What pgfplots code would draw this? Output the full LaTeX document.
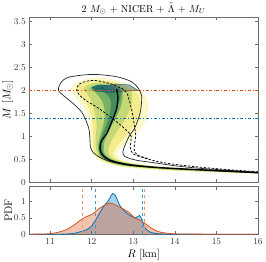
\documentclass[border=0pt]{standalone}
\usepackage{pgfplots}
\pgfplotsset{compat=1.18}
\definecolor{mblue}{RGB}{0,114,189}
\definecolor{morange}{RGB}{217,83,25}
\definecolor{axgray}{RGB}{110,110,110}
\definecolor{yA}{RGB}{252,248,200}
\definecolor{yB}{RGB}{244,236,140}
\definecolor{gC}{RGB}{196,216,118}
\definecolor{gD}{RGB}{120,178,98}
\definecolor{gF}{RGB}{70,140,90}
\definecolor{gE}{RGB}{30,108,114}
\definecolor{thick}{RGB}{22,58,44}
\begin{document}
\begin{tikzpicture}[x=1pt,y=1pt]
\path[use as bounding box] (0,0) rectangle (266,262);
\pgfplotsset{
  myax/.style={
    scale only axis, width=228.7pt, anchor=south west,
    xmin=10.5, xmax=16,
    xtick={11,12,13,14,15,16},
    tick align=inside, major tick length=3pt,
    axis line style={axgray, line width=0.5pt},
    tick style={axgray, line width=0.5pt},
    ticklabel style={font=\small, text=black!80},
    label style={font=\fontsize{11}{13}\selectfont},
  }
}
% ---------------- top axis ----------------
\begin{axis}[myax, at={(29.3pt,79.7pt)}, height=165.3pt,
  ymin=0, ymax=3.6,
  ytick={0,0.5,1,1.5,2,2.5,3,3.5},
  yticklabels={0,0.5,1,1.5,2,2.5,3,3.5},
  xticklabels={},
  ylabel={$M$ [$M_\odot$]},
  ylabel style={yshift=-6pt},
  title={$2\ M_\odot$ + NICER + $\tilde{\Lambda}$ + $M_U$},
  title style={font=\fontsize{10}{12}\selectfont, yshift=-7pt},
]
% density layers
\addplot[draw=none, fill=yA, smooth] coordinates {
(11.5,2.03)(11.6,2.15)(11.85,2.25)(12.2,2.28)(12.6,2.22)(12.95,2.1)(13.25,1.95)(13.37,1.7)(13.32,1.4)(13.17,1.15)(12.97,0.95)(12.78,0.8)(12.62,0.65)(12.67,0.52)(12.9,0.45)(13.4,0.37)(14,0.32)(15,0.262)(16,0.225)
(16,0.19)(15,0.215)(14,0.25)(13.3,0.285)(12.7,0.34)(12.3,0.43)(12.08,0.55)(11.98,0.7)(11.97,0.9)(11.96,1.1)(11.93,1.35)(11.85,1.55)(11.7,1.75)(11.55,1.92)} -- cycle;
\addplot[draw=none, fill=yB, smooth] coordinates {
(11.65,2.05)(11.8,2.17)(12.2,2.22)(12.6,2.16)(12.95,2.04)(13.15,1.85)(13.17,1.55)(13.02,1.25)(12.82,1.0)(12.62,0.8)(12.52,0.62)(12.62,0.5)(12.9,0.425)(13.4,0.36)(14,0.315)(15,0.257)(16,0.222)
(16,0.195)(15,0.222)(14,0.258)(13.3,0.3)(12.7,0.352)(12.35,0.435)(12.13,0.555)(12.04,0.72)(12.03,0.95)(12.02,1.2)(11.99,1.45)(11.89,1.7)(11.73,1.92)} -- cycle;
\addplot[draw=none, fill=gC, smooth] coordinates {
(11.8,2.05)(12.0,2.15)(12.35,2.17)(12.7,2.1)(12.95,1.97)(12.96,1.7)(12.82,1.4)(12.64,1.15)(12.47,0.9)(12.4,0.7)(12.47,0.54)(12.8,0.43)(13.4,0.352)(14,0.308)(15,0.252)(16,0.218)
(16,0.2)(15,0.228)(14,0.265)(13.3,0.31)(12.75,0.36)(12.38,0.445)(12.18,0.565)(12.1,0.75)(12.1,1.0)(12.12,1.25)(12.08,1.5)(12.0,1.75)(11.88,1.95)} -- cycle;
\addplot[draw=none, fill=gD, smooth] coordinates {
(11.95,2.05)(12.15,2.12)(12.45,2.12)(12.72,2.03)(12.74,1.8)(12.66,1.55)(12.52,1.3)(12.38,1.05)(12.3,0.85)(12.31,0.63)(12.5,0.49)(12.9,0.405)(13.4,0.347)(14,0.303)(15,0.248)(16,0.213)
(16,0.204)(15,0.236)(14,0.278)(13.4,0.318)(12.8,0.362)(12.4,0.452)(12.2,0.58)(12.15,0.78)(12.2,1.0)(12.28,1.25)(12.32,1.5)(12.26,1.75)(12.1,1.95)} -- cycle;
\addplot[draw=none, fill=gF, smooth] coordinates {
(12.0,2.06)(12.2,2.12)(12.5,2.11)(12.7,2.02)(12.68,1.8)(12.58,1.55)(12.45,1.3)(12.33,1.08)(12.26,0.88)(12.26,0.66)(12.4,0.52)(12.7,0.43)(13.2,0.365)(13.2,0.345)(12.7,0.395)(12.35,0.48)(12.2,0.62)(12.18,0.82)(12.26,1.05)(12.38,1.3)(12.45,1.55)(12.45,1.8)(12.3,1.96)(12.1,1.99)} -- cycle;
\addplot[draw=none, fill=gE, fill opacity=0.9, smooth] coordinates {
(12.0,2.07)(12.15,2.12)(12.45,2.1)(12.65,2.02)(12.55,1.95)(12.3,1.96)(12.1,1.98)} -- cycle;
% small patch
\addplot[draw=gE!80!black, fill=gE!55!gray, fill opacity=0.5, line width=0.5pt] coordinates {
(12.2,2.05)(12.55,2.14)(12.91,2.12)(13.11,2.0)(12.68,1.98)} -- cycle;
% horizontal reference lines
\addplot[morange, line width=0.8pt, dash dot] coordinates {(10.5,2.0)(16,2.0)};
\addplot[mblue, line width=0.8pt, dash dot] coordinates {(10.5,1.4)(16,1.4)};
% outer solid contour
\addplot[black!85, line width=0.7pt, smooth] coordinates {
(16,0.205)(15.3,0.24)(14.6,0.273)(14,0.297)(13.63,0.318)(12.99,0.362)(12.51,0.435)(12.2,0.54)(12.03,0.66)(11.97,0.77)(11.96,0.91)(11.94,1.13)(11.88,1.31)(11.76,1.53)(11.56,1.71)(11.32,1.89)(11.2,2.0)(11.23,2.12)(11.32,2.23)(11.5,2.3)(12.03,2.35)(12.6,2.3)(12.96,2.19)(13.12,2.05)(13.2,1.89)(13.19,1.65)(13.15,1.46)(13.03,1.17)(12.91,1.02)(12.8,0.8)(12.75,0.66)(12.8,0.56)(13.08,0.48)(13.51,0.425)(14,0.36)(14.6,0.305)(15.3,0.26)(16,0.218)};
% dashed contour
\addplot[black, line width=0.75pt, dash pattern=on 2.4pt off 1.6pt, smooth] coordinates {
(16,0.228)(15.3,0.275)(14.6,0.33)(14,0.39)(13.6,0.45)(13.23,0.54)(13.0,0.62)(12.93,0.75)(12.95,1.0)(12.85,1.12)(12.65,1.28)(12.4,1.46)(12.12,1.64)(11.8,1.82)(11.64,2.0)(11.72,2.15)(12.03,2.22)(12.44,2.15)(12.8,2.0)(12.9,1.8)(12.99,1.46)(13.03,1.2)(13.06,1.02)(13.02,0.72)(13.11,0.59)(13.35,0.52)};
% thick median line
\addplot[thick, line width=1.4pt, smooth] coordinates {
(12.6,2.03)(12.63,1.85)(12.6,1.6)(12.51,1.38)(12.36,1.06)(12.24,0.91)(12.2,0.77)(12.24,0.62)(12.44,0.48)(12.84,0.39)(13.39,0.335)(14,0.3)(14.6,0.272)(15.3,0.24)(16,0.209)};
\end{axis}
% ---------------- bottom axis ----------------
\begin{axis}[myax, at={(29.3pt,27.5pt)}, height=47.8pt,
  ymin=-0.01, ymax=1.45,
  ytick={0,0.5,1},
  yticklabels={0,0.5,1},
  xticklabels={11,12,13,14,15,16},
  xlabel={$R$ [km]},
  ylabel={PDF},
  xlabel style={yshift=2pt},
  ylabel style={yshift=-5pt},
]
\addplot[draw=none, fill=mblue, fill opacity=0.33, smooth] coordinates {
(10.5,0)(11.2,0)(11.4,0.005)(11.6,0.03)(11.8,0.1)(11.9,0.15)(12.0,0.25)(12.12,0.49)(12.24,0.75)(12.32,0.9)(12.4,1.02)(12.46,1.16)(12.51,1.24)(12.56,1.2)(12.6,1.1)(12.68,0.87)(12.8,0.69)(12.96,0.54)(13.05,0.5)(13.1,0.53)(13.15,0.57)(13.19,0.5)(13.22,0.39)(13.27,0.23)(13.33,0.13)(13.39,0.07)(13.55,0.02)(13.8,0.003)(14,0)(16,0)} \closedcycle;
\addplot[draw=none, fill=morange, fill opacity=0.35, smooth] coordinates {
(10.5,0)(10.8,0.003)(11.0,0.015)(11.2,0.06)(11.4,0.14)(11.6,0.3)(11.72,0.42)(11.85,0.52)(11.96,0.58)(12.04,0.63)(12.2,0.8)(12.36,0.92)(12.44,0.95)(12.56,0.9)(12.72,0.8)(12.91,0.65)(13.03,0.5)(13.1,0.46)(13.15,0.44)(13.27,0.34)(13.44,0.18)(13.6,0.08)(13.8,0.03)(14.0,0.01)(14.5,0.001)(16,0)} \closedcycle;
\addplot[mblue, line width=0.8pt, smooth] coordinates {
(10.5,0)(11.2,0)(11.4,0.005)(11.6,0.03)(11.8,0.1)(11.9,0.15)(12.0,0.25)(12.12,0.49)(12.24,0.75)(12.32,0.9)(12.4,1.02)(12.46,1.16)(12.51,1.24)(12.56,1.2)(12.6,1.1)(12.68,0.87)(12.8,0.69)(12.96,0.54)(13.05,0.5)(13.1,0.53)(13.15,0.57)(13.19,0.5)(13.22,0.39)(13.27,0.23)(13.33,0.13)(13.39,0.07)(13.55,0.02)(13.8,0.003)(14,0)(16,0)};
\addplot[morange, line width=0.8pt, smooth] coordinates {
(10.5,0)(10.8,0.003)(11.0,0.015)(11.2,0.06)(11.4,0.14)(11.6,0.3)(11.72,0.42)(11.85,0.52)(11.96,0.58)(12.04,0.63)(12.2,0.8)(12.36,0.92)(12.44,0.95)(12.56,0.9)(12.72,0.8)(12.91,0.65)(13.03,0.5)(13.1,0.46)(13.15,0.44)(13.27,0.34)(13.44,0.18)(13.6,0.08)(13.8,0.03)(14.0,0.01)(14.5,0.001)(16,0)};
\addplot[morange!60, line width=0.9pt, dashed] coordinates {(11.78,-0.01)(11.78,1.45)};
\addplot[morange!60, line width=0.9pt, dashed] coordinates {(13.27,-0.01)(13.27,1.45)};
\addplot[mblue!75, line width=0.9pt, dashed] coordinates {(12.08,-0.01)(12.08,1.45)};
\addplot[mblue!75, line width=0.9pt, dashed] coordinates {(13.22,-0.01)(13.22,1.45)};
\end{axis}
\end{tikzpicture}
\end{document}
